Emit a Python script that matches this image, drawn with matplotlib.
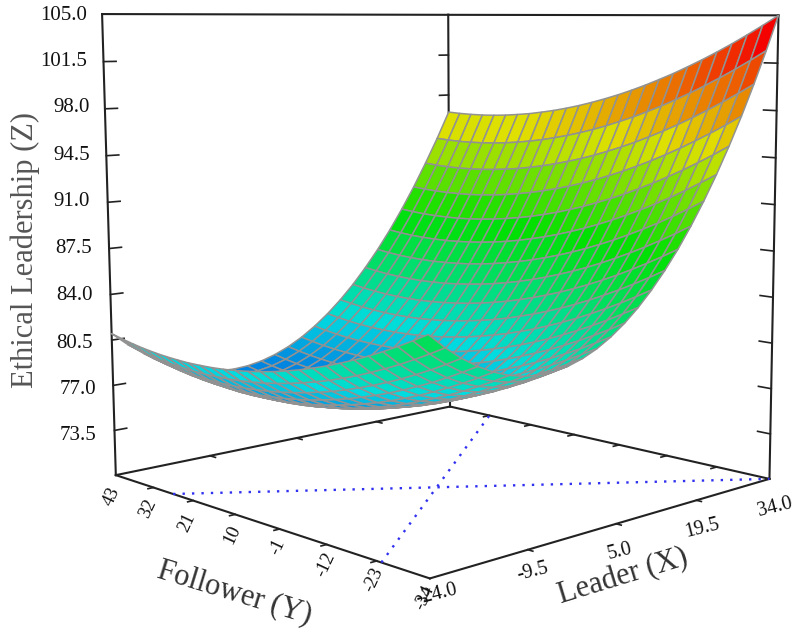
import numpy as np
import matplotlib
matplotlib.use("Agg")
import matplotlib.pyplot as plt
from matplotlib.colors import LinearSegmentedColormap, Normalize
from mpl_toolkits.mplot3d import Axes3D  # noqa: F401

W, H = 794, 633
plt.rcParams['font.family'] = ['Liberation Serif', 'DejaVu Serif']

X_MIN, X_MAX = -24.0, 34.0
Y_MIN, Y_MAX = -34.0, 43.0
Z_MIN, Z_MAX = 70.0, 105.0

z_ticks = [73.5, 77.0, 80.5, 84.0, 87.5, 91.0, 94.5, 98.0, 101.5, 105.0]
leader_ticks = [-24.0, -9.5, 5.0, 19.5, 34.0]
follower_ticks = [43, 32, 21, 10, -1, -12, -23, -34]

# Ethical Leadership: one row per Leader step, one column per Follower step
z_surface = [
    [85.50,84.92,84.37,83.85,83.37,82.92,82.51,82.12,81.78,81.46,81.18,80.93,80.72,80.54,80.39,80.28,80.20,80.16,80.14,80.17,80.22,80.31,80.43,80.59,80.78,81.00],
    [84.49,83.91,83.36,82.84,82.36,81.91,81.49,81.11,80.76,80.45,80.17,79.92,79.70,79.52,79.38,79.26,79.19,79.14,79.13,79.15,79.20,79.29,79.41,79.57,79.76,79.98],
    [83.64,83.06,82.50,81.99,81.50,81.05,80.64,80.26,79.91,79.59,79.31,79.06,78.85,78.67,78.52,78.41,78.32,78.28,78.26,78.29,78.34,78.43,78.55,78.70,78.89,79.11],
    [82.93,82.35,81.79,81.27,80.79,80.34,79.92,79.54,79.19,78.87,78.59,78.34,78.12,77.94,77.79,77.68,77.59,77.55,77.53,77.55,77.60,77.69,77.81,77.96,78.15,78.37],
    [82.37,81.78,81.23,80.71,80.22,79.77,79.35,78.96,78.61,78.29,78.01,77.76,77.54,77.36,77.21,77.09,77.00,76.96,76.94,76.95,77.01,77.09,77.21,77.36,77.55,77.77],
    [81.96,81.37,80.81,80.29,79.80,79.35,78.93,78.54,78.18,77.86,77.58,77.32,77.10,76.92,76.76,76.64,76.56,76.51,76.49,76.50,76.55,76.64,76.75,76.90,77.08,77.30],
    [81.70,81.11,80.55,80.02,79.53,79.07,78.65,78.26,77.90,77.58,77.29,77.03,76.81,76.62,76.46,76.34,76.25,76.20,76.18,76.19,76.24,76.32,76.43,76.58,76.76,76.97],
    [81.59,80.99,80.43,79.90,79.41,78.95,78.52,78.13,77.77,77.44,77.15,76.89,76.66,76.47,76.31,76.18,76.09,76.03,76.01,76.02,76.06,76.14,76.25,76.39,76.57,76.78],
    [81.62,81.02,80.45,79.92,79.42,78.96,78.53,78.13,77.76,77.43,77.14,76.87,76.64,76.45,76.28,76.15,76.06,76.00,75.97,75.97,76.01,76.09,76.19,76.33,76.50,76.71],
    [81.81,81.21,80.64,80.10,79.60,79.13,78.69,78.29,77.92,77.58,77.28,77.02,76.78,76.58,76.41,76.28,76.18,76.11,76.08,76.08,76.12,76.18,76.29,76.42,76.59,76.79],
    [82.14,81.53,80.96,80.41,79.91,79.43,78.99,78.58,78.21,77.87,77.56,77.29,77.05,76.85,76.67,76.54,76.43,76.36,76.32,76.32,76.35,76.41,76.51,76.64,76.80,77.00],
    [82.62,82.01,81.43,80.88,80.37,79.89,79.44,79.03,78.65,78.30,77.99,77.71,77.47,77.26,77.08,76.94,76.83,76.75,76.71,76.70,76.72,76.78,76.87,76.99,77.15,77.35],
    [83.25,82.63,82.04,81.49,80.97,80.49,80.03,79.62,79.23,78.88,78.56,78.28,78.03,77.81,77.63,77.48,77.36,77.28,77.23,77.21,77.23,77.28,77.37,77.49,77.64,77.83],
    [84.03,83.40,82.81,82.25,81.73,81.23,80.78,80.35,79.96,79.60,79.28,78.99,78.73,78.51,78.32,78.16,78.04,77.95,77.89,77.87,77.88,77.93,78.01,78.12,78.27,78.45],
    [84.96,84.33,83.73,83.16,82.63,82.13,81.66,81.23,80.83,80.47,80.14,79.84,79.58,79.35,79.15,78.99,78.86,78.76,78.70,78.67,78.68,78.72,78.79,78.89,79.03,79.21],
    [86.04,85.40,84.79,84.22,83.68,83.17,82.70,82.26,81.85,81.48,81.14,80.84,80.57,80.33,80.13,79.96,79.82,79.72,79.65,79.61,79.61,79.64,79.70,79.80,79.94,80.10],
    [87.27,86.62,86.01,85.42,84.88,84.36,83.88,83.43,83.02,82.64,82.30,81.98,81.70,81.46,81.25,81.07,80.92,80.81,80.73,80.69,80.68,80.70,80.76,80.85,80.98,81.13],
    [88.64,87.98,87.36,86.77,86.21,85.69,85.20,84.75,84.32,83.94,83.58,83.26,82.97,82.72,82.50,82.31,82.16,82.04,81.95,81.90,81.88,81.90,81.94,82.03,82.14,82.29],
    [90.17,89.50,88.87,88.27,87.71,87.18,86.68,86.21,85.78,85.39,85.02,84.69,84.39,84.13,83.90,83.71,83.55,83.42,83.32,83.26,83.23,83.24,83.28,83.35,83.46,83.60],
    [91.84,91.17,90.52,89.91,89.34,88.80,88.29,87.82,87.38,86.97,86.60,86.26,85.95,85.68,85.44,85.23,85.06,84.92,84.82,84.75,84.71,84.71,84.74,84.80,84.90,85.03],
    [93.66,92.98,92.32,91.70,91.12,90.57,90.05,89.57,89.12,88.70,88.32,87.97,87.65,87.37,87.12,86.90,86.72,86.57,86.46,86.38,86.33,86.32,86.34,86.39,86.48,86.60],
    [95.63,94.93,94.27,93.64,93.05,92.49,91.96,91.46,91.00,90.58,90.18,89.82,89.49,89.20,88.94,88.72,88.53,88.37,88.24,88.15,88.09,88.07,88.08,88.12,88.20,88.31],
    [97.75,97.04,96.37,95.73,95.12,94.55,94.01,93.51,93.03,92.60,92.19,91.82,91.48,91.18,90.91,90.67,90.47,90.30,90.16,90.06,89.99,89.96,89.96,89.99,90.05,90.15],
    [100.02,99.30,98.62,97.97,97.35,96.76,96.21,95.70,95.21,94.76,94.35,93.96,93.61,93.30,93.02,92.77,92.56,92.37,92.23,92.11,92.03,91.99,91.97,91.99,92.05,92.14],
    [102.43,101.70,101.00,100.34,99.71,99.11,98.55,98.02,97.53,97.06,96.64,96.24,95.88,95.55,95.26,95.00,94.77,94.58,94.42,94.29,94.20,94.14,94.12,94.12,94.17,94.24],
    [105.00,104.26,103.55,102.87,102.23,101.62,101.05,100.50,100.00,99.52,99.08,98.67,98.30,97.96,97.65,97.38,97.14,96.94,96.76,96.63,96.52,96.45,96.41,96.41,96.44,96.50],
]

Z = np.array(z_surface)
XX, YY = np.meshgrid(np.linspace(X_MIN, X_MAX, Z.shape[0]),
                     np.linspace(Y_MIN, Y_MAX, Z.shape[1]), indexing='ij')

# camera: perspective matrix fitted to where the box corners fall on the page
anchors = [
    ((X_MIN, Y_MIN, Z_MIN), (431, 575)),
    ((X_MAX, Y_MIN, Z_MIN), (768, 483)),
    ((X_MIN, Y_MAX, Z_MIN), (114, 478)),
    ((X_MAX, Y_MAX, Z_MIN), (452, 403)),
    ((X_MIN, Y_MAX, Z_MAX), (103, 14)),
    ((X_MAX, Y_MIN, Z_MAX), (779, 14)),
    ((X_MAX, Y_MAX, Z_MAX), (447, 16)),
]
rows, rhs = [], []
for (x, y, z), (u, v) in anchors:
    rows.append([x, y, z, 1, 0, 0, 0, 0, -u*x, -u*y, -u*z])
    rhs.append(u)
    rows.append([0, 0, 0, 0, x, y, z, 1, -v*x, -v*y, -v*z])
    rhs.append(v)
p = np.linalg.lstsq(np.array(rows, float), np.array(rhs, float), rcond=None)[0]
P = np.append(p, 1).reshape(3, 4)
M = np.array([2/W*P[0] - P[2], P[2] - 2/H*P[1], np.array([1/58, 1/77, 0.001, -3]), P[2]])

fig = plt.figure(figsize=(W/100, H/100), dpi=100)
ax = fig.add_axes([0, 0, 1, 1], projection='3d')
ax.set_axis_off()
ax.apply_aspect = lambda position=None: None
ax.set_position([0, 0, 1, 1])
ax.viewLim.intervalx = (-1, 1)
ax.viewLim.intervaly = (-1, 1)
ax.get_proj = lambda: M
ax.computed_zorder = False
ax.patch.set_visible(False)
ax.set_xlim(X_MIN, X_MAX)
ax.set_ylim(Y_MIN, Y_MAX)
ax.set_zlim(Z_MIN, Z_MAX)

stops = [(74.0, '#0060e0'), (77.0, '#0088e0'), (79.8, '#00dce0'), (88.0, '#00e000'),
         (95.5, '#e0e000'), (103.5, '#f40000'), (105.0, '#f40000')]
cmap = LinearSegmentedColormap.from_list('rainbow', [((v-74)/31, c) for v, c in stops])
norm = Normalize(74, 105)
cell = (Z[:-1, :-1] + Z[1:, :-1] + Z[:-1, 1:] + Z[1:, 1:]) / 4
ax.plot_surface(XX, YY, Z, rstride=1, cstride=1, facecolors=cmap(norm(cell)), shade=False,
                edgecolor='#929292', linewidth=1.1, antialiased=True, zorder=5)

LK = '#222222'
BLUE = '#3030f0'


def seg(a, b, lw=1.5, color=LK, zorder=1, **kw):
    ax.plot([a[0], b[0]], [a[1], b[1]], [a[2], b[2]], color=color, lw=lw, zorder=zorder, **kw)


seg((X_MIN, Y_MIN, Z_MIN), (X_MAX, Y_MIN, Z_MIN))
seg((X_MIN, Y_MIN, Z_MIN), (X_MIN, Y_MAX, Z_MIN))
seg((X_MAX, Y_MIN, Z_MIN), (X_MAX, Y_MAX, Z_MIN))
seg((X_MIN, Y_MAX, Z_MIN), (X_MAX, Y_MAX, Z_MIN))
seg((X_MIN, Y_MAX, Z_MIN), (X_MIN, Y_MAX, Z_MAX))
seg((X_MAX, Y_MIN, Z_MIN), (X_MAX, Y_MIN, Z_MAX))
seg((X_MAX, Y_MAX, Z_MIN), (X_MAX, Y_MAX, Z_MAX))
seg((X_MIN, Y_MAX, Z_MAX), (X_MAX, Y_MAX, Z_MAX))
seg((X_MAX, Y_MIN, Z_MAX), (X_MAX, Y_MAX, Z_MAX))
seg((X_MIN, -24, Z_MIN), (X_MAX, 32, Z_MIN), color=BLUE, lw=1.7, ls=(0, (1, 3)), zorder=2)
seg((X_MIN, 26.5, Z_MIN), (X_MAX, Y_MIN, Z_MIN), color=BLUE, lw=1.7, ls=(0, (1, 3)), zorder=2)

for z in z_ticks[:-1]:
    seg((X_MIN, Y_MAX, z), (X_MIN + 1.8, Y_MAX, z), lw=1.2)
    seg((X_MAX, Y_MIN, z), (X_MAX, Y_MIN + 2.6, z), lw=1.2)
    seg((X_MAX, Y_MAX, z), (X_MAX - 1.8, Y_MAX, z), lw=1.2)
for x in leader_ticks[1:-1]:
    seg((x, Y_MIN, Z_MIN), (x, Y_MIN - 1.0, Z_MIN), lw=1.2)
    seg((x, Y_MAX, Z_MIN), (x, Y_MAX - 1.6, Z_MIN), lw=1.2)
for y in follower_ticks[1:-1]:
    seg((X_MIN, y, Z_MIN), (X_MIN - 0.8, y, Z_MIN), lw=1.2)
    seg((X_MAX, y, Z_MIN), (X_MAX - 1.2, y, Z_MIN), lw=1.2)


def label(px, py, text, size, rot=0, color='#111111', ha='center', va='center'):
    fig.text(px/W, 1 - py/H, text, fontsize=size, rotation=rot, color=color, ha=ha, va=va,
             rotation_mode='anchor')


z_label_pos = [(96, 435), (96, 389), (93, 343), (93, 296), (92, 249),
               (90, 202), (90, 155), (90, 108), (87, 62), (87, 15)]
for v, (px, py) in zip(z_ticks, z_label_pos):
    label(px, py, f'{v:.1f}', 15, ha='right')

follower_pos = [(112, 497), (148, 509), (187, 523), (232, 535), (277, 547), (325, 565), (373, 580), (424, 598)]
for v, (px, py) in zip(follower_ticks, follower_pos):
    label(px, py, str(v), 13.5, rot=65)

leader_pos = [(437, 595), (533, 572), (620, 552), (702, 528), (775, 507)]
for v, (px, py) in zip(leader_ticks, leader_pos):
    label(px, py, f'{v:.1f}', 14.5, rot=14)

label(25, 250, 'Ethical Leadership (Z)', 22, rot=90, color='#555555')
label(235, 593, 'Follower (Y)', 22, rot=-17, color='#333333')
label(623, 577, 'Leader (X)', 22, rot=17, color='#333333')

fig.savefig('out.png', dpi=100)
